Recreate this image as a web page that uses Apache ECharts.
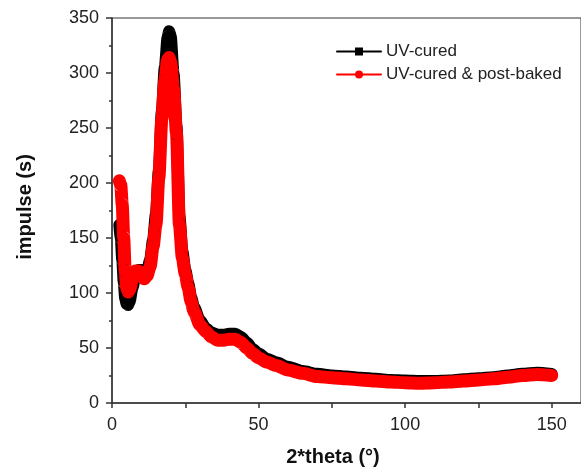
<!DOCTYPE html>
<html>
<head>
<meta charset="utf-8">
<script src="https://cdn.jsdelivr.net/npm/echarts@6/dist/echarts.min.js"></script>
<style>
html,body{margin:0;padding:0;background:#fff;}
#chart{width:581px;height:470px;}
</style>
</head>
<body>
<div id="chart"></div>
<script>
// 2*theta values (degrees)
const theta = [2.5,3,3.5,4,4.5,5,5.5,6,7,8,9,10,11,12,13,14,15,16,17,18,19,19.5,20,21,22,23,24,25,26,27,28,30,32,34,36,38,40,42,44,46,48,50,53,56,60,65,70,75,80,85,90,95,100,105,110,115,120,125,130,135,140,145,150];

// UV-cured
const uvCured = [162,150,130,110,95,90,89,92,105,116,121,121,119,121,130,148,172,212,265,305,333,338,334,300,252,170,138,121,109,96,87,75,68,64,62,62,63,63,60,55,49,45,40,37,33,29,26.5,25,24,23,22,21,20.5,20,20,20.5,21.5,22.5,23.5,25,26.5,27.5,26.5];

// UV-cured & post-baked
const uvPostBaked = [202,198,180,150,120,105,101,103,113,120,120,116,113,116,124,142,162,205,258,293,312,314,310,286,245,162,132,117,105,92,83,71,65,60,57,57,58,58,55,50,45,41,37,34,30,27,24,23,22,21,20,19,18.5,18,18.5,19,20,21,22,23.5,25,26,25];

const seriesNames = ['UV-cured', 'UV-cured & post-baked'];
const xLabelValues = [0, 50, 100, 150];
const xTickValues = [0, 25, 50, 75, 100, 125, 150];

const pair = (xs, ys) => xs.map((x, i) => [x, ys[i]]);

const FONT = '"Liberation Sans", Arial, sans-serif';
const chart = echarts.init(document.getElementById('chart'), null, {renderer: 'canvas'});
chart.setOption({
  animation: false,
  backgroundColor: '#fff',
  grid: {
    left: 112, top: 18, right: -1, bottom: 67,
    show: true, borderColor: '#333', borderWidth: 1, backgroundColor: 'transparent'
  },
  legend: {
    orient: 'vertical',
    left: 331, top: 38,
    itemWidth: 44, itemHeight: 10, itemGap: 6,
    textStyle: {fontFamily: FONT, fontSize: 17, color: '#222'},
    lineStyle: {width: 2},
    data: seriesNames
  },
  xAxis: {
    type: 'value', min: 0, max: 160, interval: 50,
    axisLine: {show: true, lineStyle: {color: '#333', width: 1.5}},
    axisTick: {show: true, length: 5, customValues: xTickValues, lineStyle: {color: '#333', width: 1.5}},
    axisLabel: {customValues: xLabelValues, fontFamily: FONT, fontSize: 18, color: '#222', margin: 13},
    splitLine: {show: false}
  },
  yAxis: {
    type: 'value', min: 0, max: 350, interval: 50,
    axisLine: {show: true, lineStyle: {color: '#333', width: 1.5}},
    axisTick: {show: true, length: 6, lineStyle: {color: '#333', width: 1.5}},
    minorTick: {show: true, splitNumber: 2, length: 3, lineStyle: {color: '#333', width: 1.5}},
    axisLabel: {fontFamily: FONT, fontSize: 18, color: '#222', margin: 13},
    splitLine: {show: false}
  },
  graphic: [
    {type: 'text', x: 333, y: 457, style: {text: '2*theta (°)', font: 'bold 20px ' + FONT, fill: '#111', textAlign: 'center', textVerticalAlign: 'middle'}},
    {type: 'text', rotation: Math.PI / 2, x: 25, y: 207, style: {text: 'impulse (s)', font: 'bold 20px ' + FONT, fill: '#111', textAlign: 'center', textVerticalAlign: 'middle'}}
  ],
  series: [
    {
      name: seriesNames[0], type: 'line', data: pair(theta, uvCured),
      showSymbol: false, symbol: 'rect', symbolSize: 8,
      smooth: 0.25, smoothMonotone: 'x',
      itemStyle: {color: '#000'},
      lineStyle: {color: '#000', width: 12, cap: 'round', join: 'round'},
      z: 2
    },
    {
      name: seriesNames[1], type: 'line', data: pair(theta, uvPostBaked),
      showSymbol: false, symbol: 'circle', symbolSize: 8,
      smooth: 0.25, smoothMonotone: 'x',
      itemStyle: {color: '#ff0000'},
      lineStyle: {color: '#ff0000', width: 13, cap: 'round', join: 'round'},
      z: 3
    }
  ]
});
</script>
</body>
</html>
